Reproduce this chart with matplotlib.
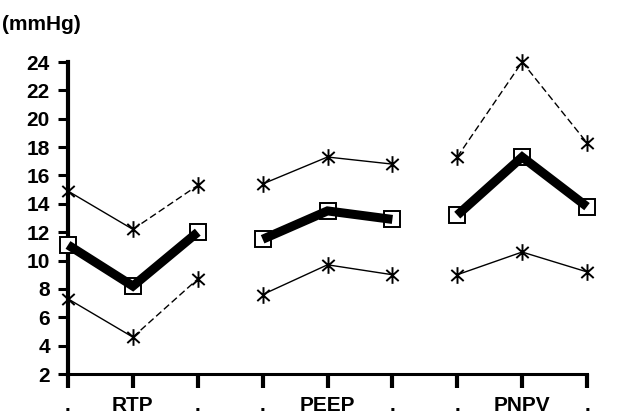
import matplotlib
matplotlib.use("Agg")
import numpy as np
import matplotlib.pyplot as plt
from matplotlib.path import Path

plt.rcParams['font.family'] = ['Liberation Sans', 'DejaVu Sans']
plt.rcParams['font.weight'] = 'bold'

groups = ["RTP", "PEEP", "PNPV"]
tick_labels = [".", "RTP", ".", ".", "PEEP", ".", ".", "PNPV", "."]
yticks = [2, 4, 6, 8, 10, 12, 14, 16, 18, 20, 22, 24]

mean_vals = [[11.1, 8.2, 12.0], [11.5, 13.5, 12.9], [13.2, 17.3, 13.8]]
upper_vals = [[14.9, 12.2, 15.3], [15.4, 17.3, 16.8], [17.3, 24.0, 18.3]]
lower_vals = [[7.3, 4.6, 8.7], [7.6, 9.7, 9.0], [9.0, 10.6, 9.2]]

upper_styles = [["-", "--"], ["-", "-"], ["--", "--"]]
lower_styles = [["-", "--"], ["-", "-"], ["-", "-"]]

# asterisk marker: vertical bar plus an X
a = np.deg2rad(42)
c, s = np.cos(a), np.sin(a)
ast = Path([(0, -1), (0, 1), (-c, -s), (c, s), (-c, s), (c, -s)],
           [Path.MOVETO, Path.LINETO, Path.MOVETO, Path.LINETO,
            Path.MOVETO, Path.LINETO])

fig = plt.figure(figsize=(6.18, 4.18), dpi=100)
ax = fig.add_axes([68/618, 1-374/418, (587-68)/618, (374-62)/418])
ax.set_xlim(0, 8)
ax.set_ylim(2, 24)

dash = (0, (5, 2.5))
for g in range(len(groups)):
    xs = [3*g, 3*g+1, 3*g+2]
    for vals, styles in ((upper_vals, upper_styles), (lower_vals, lower_styles)):
        for k in range(2):
            ls = dash if styles[g][k] == "--" else "-"
            ax.plot(xs[k:k+2], vals[g][k:k+2], color="black", lw=1.0, ls=ls,
                    clip_on=False, zorder=2)
        ax.plot(xs, vals[g], ls="none", marker=ast, ms=12, mew=1.4,
                color="black", clip_on=False, zorder=3)
    ax.plot(xs, mean_vals[g], ls="none", marker="s", ms=12, mew=1.4,
            mfc="white", mec="black", clip_on=False, zorder=4)
    ax.plot(xs, mean_vals[g], color="black", lw=6.5, solid_capstyle="butt",
            solid_joinstyle="miter", clip_on=False, zorder=5)

for side in ("top", "right"):
    ax.spines[side].set_visible(False)
ax.spines["left"].set_linewidth(3)
ax.spines["bottom"].set_linewidth(2.2)

ax.set_xticks(range(len(tick_labels)))
ax.set_xticklabels(tick_labels, fontsize=15, fontweight="bold")
ax.set_yticks(yticks)
ax.set_yticklabels([str(v) for v in yticks], fontsize=15, fontweight="bold")
ax.tick_params(axis="x", direction="out", length=10, width=3, pad=6)
ax.tick_params(axis="y", direction="out", length=7, width=2.2, pad=6)

fig.text(2/618, 1-25/418, "(mmHg)", fontsize=15, fontweight="bold",
         ha="left", va="center")

fig.savefig("out.png", dpi=100, facecolor="white")
